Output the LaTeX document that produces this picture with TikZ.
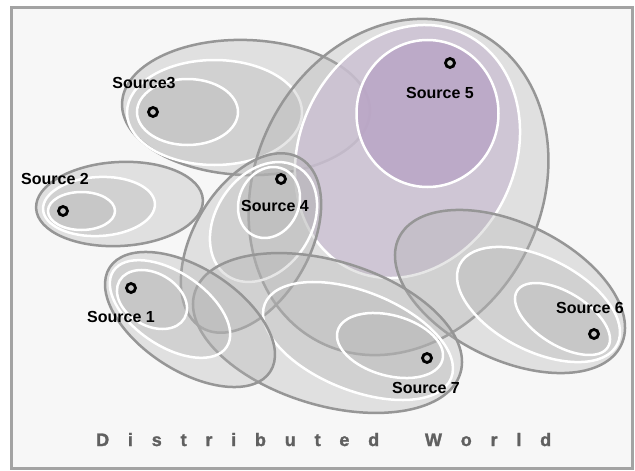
\documentclass[tikz,border=0pt]{standalone}
\usepackage{fontspec}
\setmainfont{Liberation Sans}
\newfontfamily\titlefont{Liberation Sans}[BoldFeatures={FakeBold=1.5}]
\newcommand\tsep{\kern18.8pt}
\definecolor{strokegray}{HTML}{969696}
\definecolor{fillgray}{HTML}{B2B2B2}
\definecolor{framegray}{HTML}{A3A3A3}
\definecolor{bgcol}{HTML}{F7F7F7}
\definecolor{purpmid}{HTML}{CBC0D3}
\definecolor{purpin}{HTML}{B8A3C5}
\definecolor{textgray}{HTML}{606060}
\definecolor{markfill}{HTML}{C4C4C4}
\begin{document}
\begin{tikzpicture}[x=1pt,y=-1pt,
  outerell/.style={draw=strokegray, line width=2.5pt, fill=fillgray, fill opacity=0.32},
  ringell/.style={draw=white, line width=2.5pt, fill=fillgray, fill opacity=0.32},
  pringell/.style={draw=white, line width=2.5pt, fill=#1, fill opacity=0.8},
  marker/.style={circle, draw=black, line width=2.8pt, fill=markfill, inner sep=0pt, minimum size=9pt},
  lbl/.style={font=\fontsize{16}{16}\selectfont\bfseries, text=black, inner sep=0pt, anchor=base}]
\useasboundingbox (0,0) rectangle (635,471);
\draw[line width=3pt, draw=framegray, fill=bgcol] (11.5,7) rectangle (632.5,468.5);

% Source 3
\draw[outerell, rotate around={-2:(246,107.5)}] (246,107.5) ellipse [x radius=124pt, y radius=67.5pt];
\draw[ringell] (214.5,112.5) ellipse [x radius=87.5pt, y radius=52.5pt];
\draw[ringell] (187.5,112) ellipse [x radius=50.5pt, y radius=33pt];
% Source 2
\draw[outerell, rotate around={3:(119.5,204)}] (119.5,204) ellipse [x radius=83.5pt, y radius=42pt];
\draw[ringell, rotate around={3:(99,206.5)}] (99,206.5) ellipse [x radius=56pt, y radius=29.5pt];
\draw[ringell] (81.5,211) ellipse [x radius=33.5pt, y radius=19pt];
% Source 5
\draw[outerell, rotate around={63:(398.5,187)}] (398.5,187) ellipse [x radius=174pt, y radius=143pt];
\draw[pringell=purpmid, rotate around={63.5:(407.5,151.5)}] (407.5,151.5) ellipse [x radius=130.8pt, y radius=107.5pt];
\draw[pringell=purpin] (427.5,113.5) ellipse [x radius=71pt, y radius=73.5pt];
% Source 4
\draw[outerell, rotate around={60:(251,243)}] (251,243) ellipse [x radius=98pt, y radius=58pt];
\draw[ringell, rotate around={56:(263.5,222)}] (263.5,222) ellipse [x radius=64.8pt, y radius=47.6pt];
\draw[ringell, rotate around={67:(269,202.5)}] (269,202.5) ellipse [x radius=36.4pt, y radius=29.9pt];
% Source 6
\draw[outerell, rotate around={-25.8:(510,291.5)}] (510,291.5) ellipse [x radius=123.4pt, y radius=68.2pt];
\draw[ringell, rotate around={-26.9:(538.5,304.5)}] (538.5,304.5) ellipse [x radius=88.3pt, y radius=46.5pt];
\draw[ringell, rotate around={-31.7:(562.5,319)}] (562.5,319) ellipse [x radius=53.4pt, y radius=26.5pt];
% Source 7
\draw[outerell, rotate around={-16.8:(327.5,333)}] (327.5,333) ellipse [x radius=138.8pt, y radius=72.2pt];
\draw[ringell, rotate around={-21.7:(358,341)}] (358,341) ellipse [x radius=100.3pt, y radius=49.4pt];
\draw[ringell, rotate around={-15.5:(390,345.5)}] (390,345.5) ellipse [x radius=54.4pt, y radius=30.2pt];
% Source 1
\draw[outerell, rotate around={-33:(190,319.5)}] (190,319.5) ellipse [x radius=95.7pt, y radius=51.2pt];
\draw[ringell, rotate around={-34:(170,309)}] (170,309) ellipse [x radius=68.2pt, y radius=36.8pt];
\draw[ringell, rotate around={-30:(152,299.5)}] (152,299.5) ellipse [x radius=37.5pt, y radius=26.3pt];

% markers
\node[marker] (m3) at (153,112) {};
\node[marker] (m2) at (63,211) {};
\node[marker] (m4) at (281,179) {};
\node[marker] (m5) at (450,63) {};
\node[marker] (m6) at (594,334) {};
\node[marker] (m7) at (427,358) {};
\node[marker] (m1) at (131,288) {};

% labels
\node[lbl] (l3) at (144,88) {Source3};
\node[lbl] (l2) at (55,184) {Source 2};
\node[lbl] (l4) at (275,211) {Source 4};
\node[lbl] (l5) at (440,98) {Source 5};
\node[lbl] (l6) at (590,313) {Source 6};
\node[lbl] (l7) at (426,393) {Source 7};
\node[lbl] (l1) at (121,322) {Source 1};

\node[anchor=base west, inner sep=0pt, text=textgray, font=\titlefont\fontsize{18}{18}\selectfont\bfseries] (title) at (96,446) {D\tsep i\tsep s\tsep t\tsep r\tsep i\tsep b\tsep u\tsep t\tsep e\tsep d\tsep\hspace{27pt}W\tsep o\tsep r\tsep l\tsep d};
\end{tikzpicture}
\end{document}
